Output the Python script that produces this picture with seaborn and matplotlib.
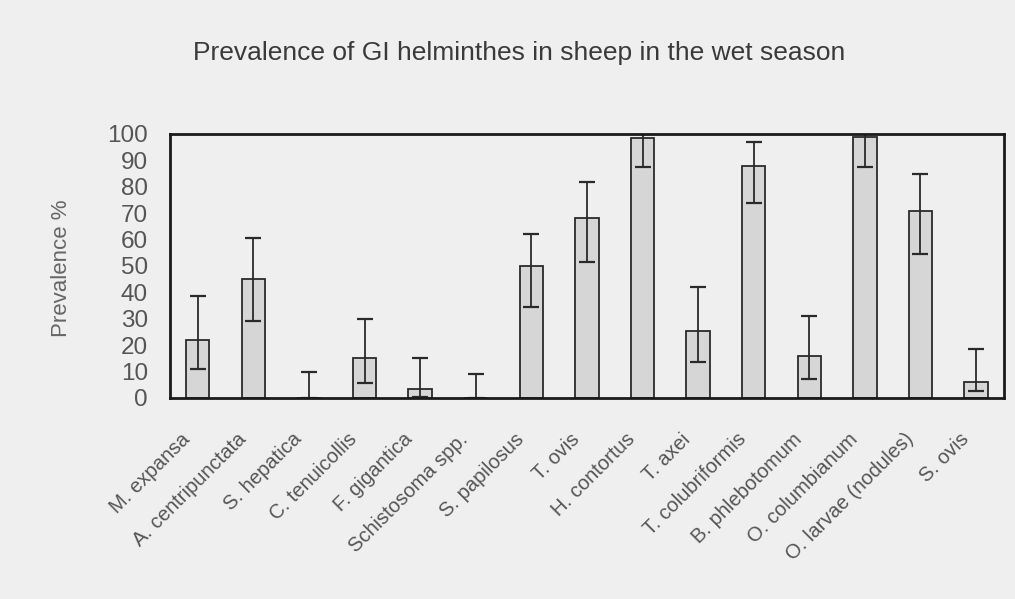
import matplotlib
matplotlib.use("Agg")
import matplotlib.pyplot as plt
import matplotlib.transforms as mtransforms
import seaborn as sns
import numpy as np
import pandas as pd

species = ["M. expansa", "A. centripunctata", "S. hepatica", "C. tenuicollis",
           "F. gigantica", "Schistosoma spp.", "S. papilosus", "T. ovis",
           "H. contortus", "T. axei", "T. colubriformis", "B. phlebotomum",
           "O. columbianum", "O. larvae (nodules)", "S. ovis"]
prevalence = [22, 45, 0, 15, 3.5, 0, 50, 68, 98.5, 25.5, 88, 16, 99, 71, 6]
ci_lower = [11, 29, 0, 5.5, 0.5, 0, 34.5, 51.5, 87.5, 13.5, 74, 7, 87.5, 54.5, 2.5]
ci_upper = [38.5, 60.5, 10, 30, 15, 9, 62, 82, 100, 42, 97, 31, 100, 85, 18.5]
yticks = [0, 10, 20, 30, 40, 50, 60, 70, 80, 90, 100]

bg = "#efefef"
sns.set_theme(style="white")
plt.rcParams["font.family"] = ["Liberation Sans", "DejaVu Sans"]

fig = plt.figure(figsize=(10.15, 5.99), dpi=100, facecolor=bg)
ax = fig.add_axes([0.1675, 0.3356, 0.8215, 0.4407])
ax.set_facecolor(bg)

df = pd.DataFrame({"species": species, "prevalence": prevalence})
sns.barplot(data=df, x="species", y="prevalence", ax=ax, color="#d6d6d6",
            edgecolor="#2a2a2a", linewidth=1.3, width=0.42, saturation=1)

x = np.arange(len(species))
val = np.array(prevalence)
lo = val - np.array(ci_lower)
hi = np.array(ci_upper) - val
ax.errorbar(x, val, yerr=[lo, hi], fmt="none", ecolor="#2a2a2a",
            elinewidth=1.3, capsize=6, capthick=1.6)

ax.set_xlim(-0.5, len(species) - 0.5)
ax.set_ylim(0, 100)
ax.set_yticks(yticks)
ax.set_yticklabels([str(t) for t in yticks], fontsize=17.5, color="#555555")
ax.tick_params(axis="y", length=0, pad=16)
ax.tick_params(axis="x", length=0, pad=4)
ax.set_xticks(x)
ax.set_xticklabels(species, rotation=45, ha="right", rotation_mode="anchor",
                   fontsize=14.5, color="#555555")
for lbl in ax.get_xticklabels():
    lbl.set_transform(lbl.get_transform() + mtransforms.ScaledTranslation(-0.17, -0.26, fig.dpi_scale_trans))

ax.set_xlabel("")
ax.set_ylabel("Prevalence %", fontsize=16, color="#666666")
ax.yaxis.set_label_coords(-0.117, 0.49)
for s in ax.spines.values():
    s.set_visible(True)
    s.set_color("#1a1a1a")
    s.set_linewidth(2)

fig.text(0.511, 0.911, "Prevalence of GI helminthes in sheep in the wet season",
         ha="center", va="center", fontsize=19, color="#3a3a3a")

fig.savefig("out.png", dpi=100, facecolor=bg)
